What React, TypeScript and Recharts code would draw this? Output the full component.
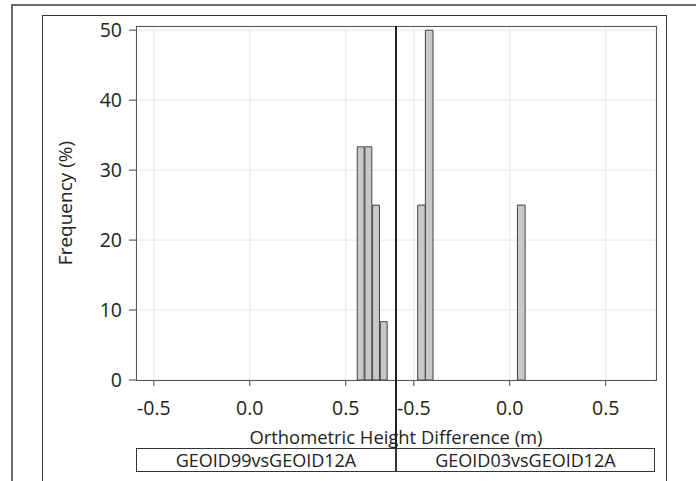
import { BarChart, Bar, XAxis, YAxis, CartesianGrid } from 'recharts'

// histogram bin midpoints (m) and percent of observations in each bin
const panelNames = ['GEOID99vsGEOID12A', 'GEOID03vsGEOID12A']
const binsLeft = [0.58, 0.62, 0.66, 0.7]
const freqLeft = [33.33, 33.33, 25, 8.33]
const binsRight = [-0.46, -0.42, 0.06]
const freqRight = [25, 50, 25]
const xTicks = [-0.5, 0, 0.5]
const yTicks = [0, 10, 20, 30, 40, 50]
const BIN = 0.04

const X_DOMAIN: [number, number] = [-0.593, 0.762]
const Y_DOMAIN: [number, number] = [0, 50.6]
const PLOT_W = 260
const FONT = '"Open Sans", "DejaVu Sans", sans-serif'
const barSize = (BIN / (X_DOMAIN[1] - X_DOMAIN[0])) * PLOT_W

const leftData = binsLeft.map((x, i) => ({ x, pct: freqLeft[i] }))
const rightData = binsRight.map((x, i) => ({ x, pct: freqRight[i] }))

function Panel({ data, showY }: { data: { x: number; pct: number }[]; showY: boolean }) {
  const yw = showY ? 96 : 0
  return (
    <BarChart
      width={yw + PLOT_W + 4}
      height={481}
      data={data}
      margin={{ top: 26, right: 4, bottom: 0, left: 0 }}
      barCategoryGap={0}
    >
      <CartesianGrid stroke="#e8e8e8" />
      <XAxis
        dataKey="x"
        type="number"
        domain={X_DOMAIN}
        ticks={xTicks}
        allowDataOverflow
        tickFormatter={(v: number) => v.toFixed(1)}
        tick={{ fontSize: 19.5, fill: '#222', fontFamily: FONT }}
        tickLine={{ stroke: '#444' }}
        tickSize={6}
        tickMargin={15}
        axisLine={false}
        height={101}
      />
      <YAxis
        type="number"
        domain={Y_DOMAIN}
        ticks={yTicks}
        hide={!showY}
        width={yw}
        allowDataOverflow
        tick={{ fontSize: 19.5, fill: '#222', fontFamily: FONT }}
        tickLine={{ stroke: '#444' }}
        tickSize={7}
        tickMargin={7}
        axisLine={false}
        label={{
          value: 'Frequency (%)',
          angle: -90,
          position: 'insideLeft',
          offset: 25,
          style: { textAnchor: 'middle', fontSize: 19, fill: '#222', fontFamily: FONT },
        }}
      />
      <Bar dataKey="pct" fill="#c8c8c8" stroke="#444" strokeWidth={1} barSize={barSize} isAnimationActive={false} />
    </BarChart>
  )
}

export default function App() {
  return (
    <div style={{ position: 'absolute', left: 0, top: 0, width: 696, height: 481, overflow: 'hidden', background: '#fff', fontFamily: FONT }}>
      {/* outer + graph frames */}
      <div style={{ position: 'absolute', left: 11, top: 4, width: 720, height: 520, border: '2px solid #6a6a6a' }} />
      <div style={{ position: 'absolute', left: 42, top: 15, width: 623, height: 520, border: '1px solid #333' }} />

      <div style={{ position: 'absolute', left: 40, top: 0 }}>
        <Panel data={leftData} showY />
      </div>
      <div style={{ position: 'absolute', left: 396, top: 0 }}>
        <Panel data={rightData} showY={false} />
      </div>

      {/* plot frame and panel divider */}
      <div style={{ position: 'absolute', left: 136, top: 26, width: 519, height: 353, border: '1px solid #555', pointerEvents: 'none' }} />
      <div style={{ position: 'absolute', left: 395, top: 26, width: 2, height: 446, background: '#222' }} />

      <div style={{ position: 'absolute', left: 136, top: 424, width: 520, textAlign: 'center', fontSize: 18.4, color: '#222' }}>
        Orthometric Height Difference (m)
      </div>

      {/* cell labels */}
      {panelNames.map((n, i) => (
        <div
          key={n}
          style={{
            position: 'absolute', left: 136 + i * 260, top: 448, width: 260 - i, height: 24,
            border: '1px solid #333', textAlign: 'center', fontSize: 18, lineHeight: '22px', color: '#222',
            boxSizing: 'border-box',
          }}
        >
          {n}
        </div>
      ))}
    </div>
  )
}
